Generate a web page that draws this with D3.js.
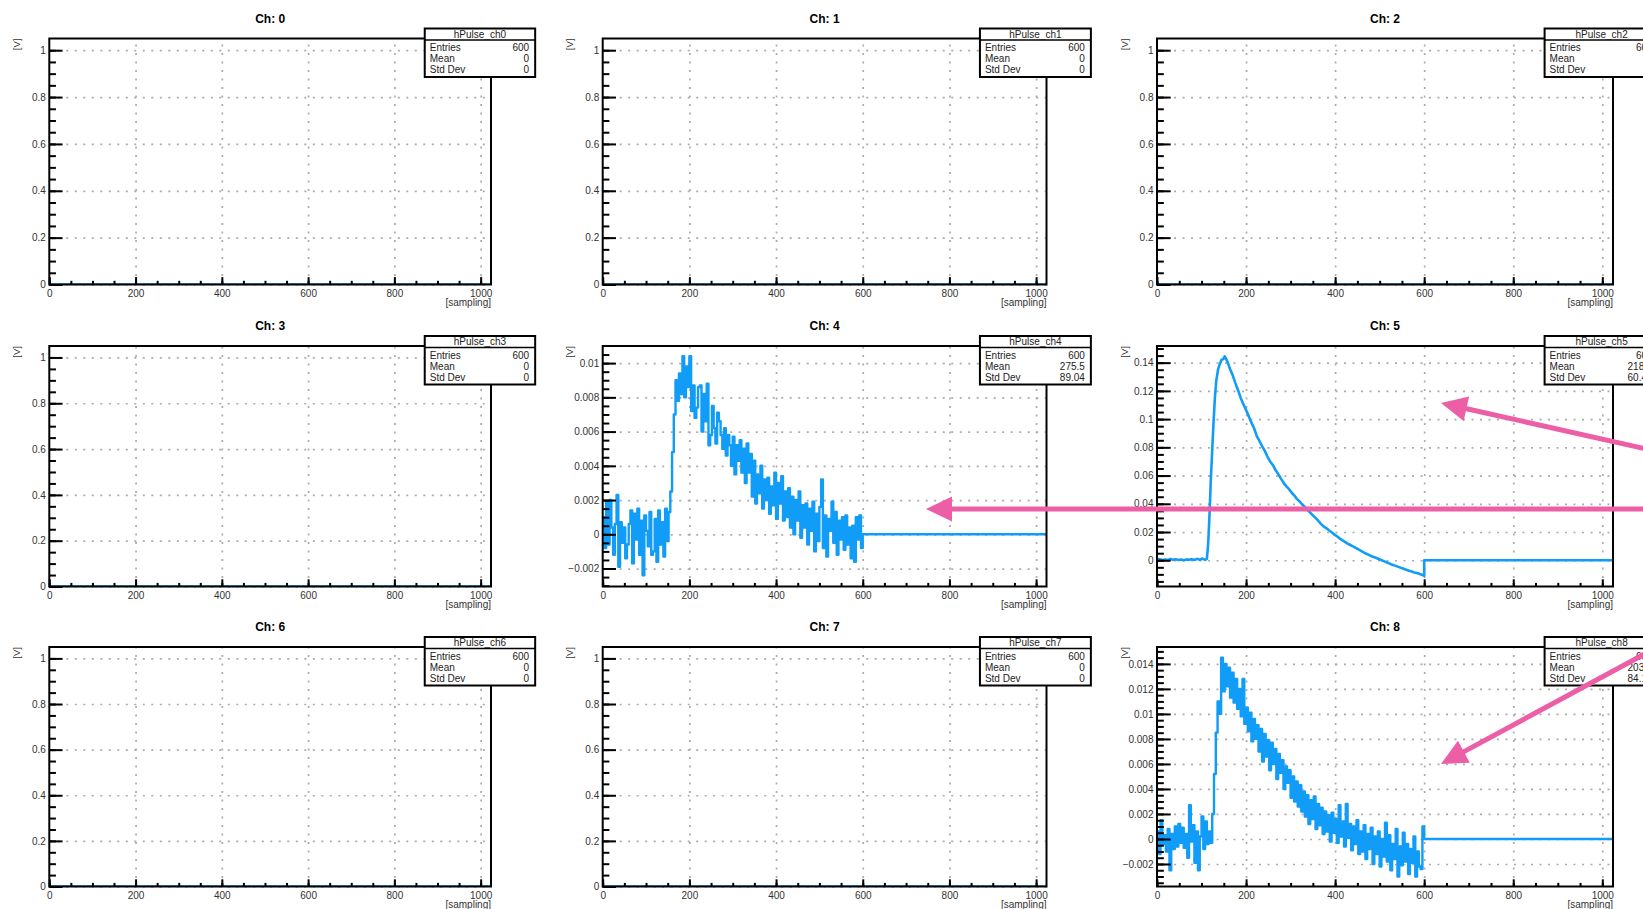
<!DOCTYPE html>
<html>
<head>
<meta charset="utf-8">
<script src="https://cdn.jsdelivr.net/npm/d3@7"></script>
<style>
  body { margin: 0; background: #ffffff; }
  svg { display: block; font-family: "Liberation Sans", Arial, Helvetica, sans-serif; }
</style>
</head>
<body>
<div id="canvas"></div>
<script>
// Define SVG area dimensions
var svgWidth = 1643;
var svgHeight = 909;

// Channel numbers, laid out 3 x 3
var channelIds = [0, 1, 2, 3, 4, 5, 6, 7, 8];

// Stats box contents
var statsEntries = ["600", "600", "600", "600", "600", "600", "600", "600", "600"];
var statsMean = ["0", "0", "0", "0", "275.5", "218.4", "0", "0", "203.2"];
var statsStdDev = ["0", "0", "0", "0", "89.04", "60.41", "0", "0", "84.17"];

// Axis ranges and tick steps
var xLimits = [0, 1024];
var xMajorStep = 200;
var xMinorStep = 50;
var yLimits = [
  [0, 1.05], [0, 1.05], [0, 1.05],
  [0, 1.05], [-0.00305, 0.0110], [-0.0186, 0.1518],
  [0, 1.05], [0, 1.05], [-0.0038, 0.01535]
];
var yMajorSteps = [0.2, 0.2, 0.2, 0.2, 0.002, 0.02, 0.2, 0.2, 0.002];

// Last filled bin; bins from here to the end are empty
var filledBins = 600;

// ch4 and ch8: one value every 4 samples (0, 4, ... 596)
var noisyStep = 4;
var ch4Values = [
  0.0010, -0.0008, 0.0019, -0.0006, 0.0020, 0.0004, -0.0012, 0.0006, 0.0023, -0.0019,
  0.0007, -0.0005, 0.0004, -0.0014, -0.0006, 0.0006, 0.0014, -0.0017, 0.0012, -0.0003,
  0.0015, -0.0012, 0.0008, -0.0024, 0.0011, 0.0002, -0.0007, 0.0013, -0.0012, -0.0010,
  0.0009, -0.0016, 0.0014, -0.0006, 0.0007, -0.0013, 0.0015, -0.0004, 0.0013, 0.0025,
  0.0048, 0.0070, 0.0090, 0.0078, 0.0094, 0.0082, 0.0104, 0.0080, 0.0098, 0.0086,
  0.0104, 0.0072, 0.0087, 0.0068, 0.0074, 0.0086, 0.0087, 0.0060, 0.0082, 0.0066,
  0.0088, 0.0052, 0.0058, 0.0075, 0.0062, 0.0053, 0.0071, 0.0066, 0.0058, 0.0050,
  0.0062, 0.0046, 0.0058, 0.0052, 0.0040, 0.0057, 0.0035, 0.0052, 0.0043, 0.0055,
  0.0036, 0.0050, 0.0030, 0.0053, 0.0036, 0.0047, 0.0022, 0.0043, 0.0018, 0.0035,
  0.0024, 0.0040, 0.0015, 0.0032, 0.0020, 0.0033, 0.0012, 0.0028, 0.0017, 0.0036,
  0.0009, 0.0030, 0.0018, 0.0034, 0.0008, 0.0025, 0.0010, 0.0027, 0.0004, 0.0022,
  0.0000, 0.0020, 0.0008, 0.0025, -0.0002, 0.0017, 0.0004, 0.0018, -0.0006, 0.0015,
  0.0002, 0.0019, -0.0010, 0.0012, -0.0004, 0.0016, 0.0032, -0.0008, 0.0011, -0.0013,
  0.0009, 0.0002, 0.0019, -0.0005, 0.0013, -0.0012, 0.0008, -0.0003, 0.0010, -0.0009,
  0.0011, -0.0006, 0.0004, -0.0014, 0.0005, -0.0016, 0.0010, -0.0003, 0.0011, -0.0008
];
var ch8Values = [
  0.0006, -0.0012, 0.0015, -0.0004, 0.0003, -0.0010, 0.0008, -0.0025, 0.0004, -0.0008,
  0.0010, -0.0006, 0.0012, -0.0003, 0.0009, -0.0007, 0.0004, -0.0015, 0.0027, -0.0002,
  0.0011, -0.0019, 0.0006, -0.0025, 0.0002, 0.0018, -0.0008, 0.0014, -0.0004, 0.0006,
  -0.0003, 0.0020, 0.0052, 0.0085, 0.0110, 0.0100, 0.0145, 0.0118, 0.0140, 0.0122,
  0.0137, 0.0113, 0.0133, 0.0109, 0.0128, 0.0104, 0.0120, 0.0098, 0.0128, 0.0092,
  0.0105, 0.0086, 0.0101, 0.0078, 0.0096, 0.0080, 0.0091, 0.0070, 0.0088, 0.0062,
  0.0084, 0.0066, 0.0079, 0.0055, 0.0077, 0.0060, 0.0072, 0.0048, 0.0068, 0.0053,
  0.0063, 0.0040, 0.0058, 0.0045, 0.0055, 0.0033, 0.0050, 0.0030, 0.0046, 0.0026,
  0.0043, 0.0022, 0.0038, 0.0018, 0.0035, 0.0012, 0.0031, 0.0016, 0.0034, 0.0008,
  0.0028, 0.0011, 0.0025, 0.0004, 0.0022, 0.0006, 0.0019, -0.0002, 0.0021, 0.0005,
  0.0016, -0.0003, 0.0027, 0.0002, 0.0014, -0.0006, 0.0028, 0.0001, 0.0012, -0.0009,
  0.0010, -0.0004, 0.0015, -0.0012, 0.0006, -0.0010, 0.0011, -0.0016, 0.0004, -0.0008,
  0.0009, -0.0020, 0.0002, -0.0012, 0.0006, -0.0022, 0.0000, -0.0014, 0.0013, -0.0018,
  0.0003, -0.0025, -0.0004, -0.0016, 0.0008, -0.0030, -0.0006, -0.0021, 0.0005, -0.0018,
  -0.0004, -0.0028, -0.0008, -0.0019, 0.0002, -0.0030, -0.0010, -0.0022, -0.0024, 0.0010
];

// ch5: smooth pulse, read at these samples
var ch5Samples = [
  0, 6, 12, 18, 24, 30, 36, 42, 48, 54, 60, 66, 72, 78, 84, 90, 96, 102, 108, 112,
  115, 118, 121, 124, 127, 130, 133, 137, 141, 145, 149, 152, 155, 159, 164, 170, 176, 182, 188, 194,
  200, 206, 212, 218, 224, 230, 236, 242, 248, 254, 260, 266, 272, 278, 284, 290, 296, 302, 308, 314,
  320, 326, 332, 338, 344, 350, 356, 362, 368, 374, 380, 386, 392, 398, 404, 410, 416, 422, 428, 434,
  440, 446, 452, 458, 464, 470, 476, 482, 488, 494, 500, 506, 512, 518, 524, 530, 536, 542, 548, 554,
  560, 566, 572, 578, 584, 590, 596, 599
];
var ch5Values = [
  0.0004, 0.0008, 0.0002, 0.0006, 0.0001, 0.0009, 0.0003, 0.0007, 0.0002, 0.0005,
  0.0000, 0.0006, 0.0003, 0.0008, 0.0002, 0.0010, 0.0004, 0.0012, 0.0003, 0.0010,
  0.012, 0.033, 0.058, 0.078, 0.098, 0.115, 0.127, 0.135, 0.139, 0.142,
  0.1425, 0.1445, 0.1428, 0.1400, 0.1355, 0.1310, 0.1255, 0.1205, 0.1150, 0.1105,
  0.1065, 0.1020, 0.0975, 0.0935, 0.0880, 0.0845, 0.0808, 0.0775, 0.0735, 0.0700,
  0.0675, 0.0640, 0.0612, 0.0580, 0.0550, 0.0525, 0.0505, 0.0480, 0.0460, 0.0435,
  0.0418, 0.0395, 0.0378, 0.0355, 0.0338, 0.0318, 0.0300, 0.0280, 0.0258, 0.0240,
  0.0228, 0.0212, 0.0198, 0.0182, 0.0170, 0.0155, 0.0143, 0.0130, 0.0118, 0.0108,
  0.0098, 0.0088, 0.0078, 0.0066, 0.0056, 0.0046, 0.0038, 0.0028, 0.0022, 0.0014,
  0.0006, -0.0002, -0.0010, -0.0018, -0.0026, -0.0033, -0.0040, -0.0047, -0.0054, -0.0060,
  -0.0068, -0.0074, -0.0080, -0.0086, -0.0091, -0.0098, -0.0104, -0.0110
];

// Pink annotation arrows drawn over the canvas (tip, tail) in page pixels
var arrowTips = [[926, 509], [1441, 403], [1441, 764]];
var arrowTails = [[1700, 509], [1700, 461], [1700, 624]];

// Frame edges of the pads (columns and rows)
var colFrames = [[49.3, 491], [602.7, 1046.5], [1157, 1613]];
var rowFrames = [[38.5, 284.5], [346, 586.5], [647, 886.5]];

var lineColor = "#109cf7";
var arrowColor = "#ec5ea6";

var svg = d3.select("#canvas")
  .append("svg")
  .attr("width", svgWidth)
  .attr("height", svgHeight);

// Tick label format like ROOT: 0.01, 0.008, -0.002
function fmt(v) {
  if (Math.abs(v) < 1e-12) return "0";
  return String(+v.toPrecision(6)).replace("-", "\u2212");
}

function stepTicks(lo, hi, step) {
  var out = [];
  for (var k = Math.ceil(lo / step - 1e-9); k * step <= hi + 1e-12; k++) {
    out.push(+(k * step).toPrecision(10));
  }
  return out;
}

// Build the points of each histogram line
function channelPoints(c) {
  var pts = [];
  if (c === 4 || c === 8) {
    var vals = c === 4 ? ch4Values : ch8Values;
    vals.forEach(function(v, i) { pts.push([i * noisyStep, v]); });
    pts.push([filledBins, 0]);
    pts.push([xLimits[1], 0]);
  } else if (c === 5) {
    ch5Samples.forEach(function(s, i) { pts.push([s, ch5Values[i]]); });
    pts.push([filledBins, ch5Values[ch5Values.length - 1]]);
    pts.push([filledBins, 0]);
    pts.push([xLimits[1], 0]);
  } else {
    pts.push([xLimits[0], 0]);
    pts.push([xLimits[1], 0]);
  }
  return pts;
}

channelIds.forEach(function(c) {
  var row = Math.floor(c / 3);
  var col = c % 3;
  var x0 = colFrames[col][0], x1 = colFrames[col][1];
  var y0 = rowFrames[row][0], y1 = rowFrames[row][1];
  var frameW = x1 - x0, frameH = y1 - y0;

  var xScale = d3.scaleLinear().domain(xLimits).range([x0, x1]);
  var yScale = d3.scaleLinear().domain(yLimits[c]).range([y1, y0]);

  var yStep = yMajorSteps[c];
  var yMajor = stepTicks(yLimits[c][0], yLimits[c][1], yStep);
  var yMinor = stepTicks(yLimits[c][0], yLimits[c][1], yStep / 4)
    .filter(function(v) { return v < yLimits[c][1] - 1e-9; });
  var xMajor = stepTicks(0, 1000, xMajorStep);
  var xMinor = stepTicks(0, 1000, xMinorStep);

  var pad = svg.append("g").attr("class", "pad" + c);

  // Dotted grid at major ticks
  var gridX = pad.append("g")
    .attr("transform", "translate(0," + y1 + ")")
    .call(d3.axisBottom(xScale).tickValues(xMajor.filter(function(v) { return v > 0; }))
      .tickSize(-frameH).tickFormat(""));
  var gridY = pad.append("g")
    .attr("transform", "translate(" + x0 + ",0)")
    .call(d3.axisLeft(yScale).tickValues(yMajor).tickSize(-frameW).tickFormat(""));
  [gridX, gridY].forEach(function(g) {
    g.select(".domain").remove();
    g.selectAll("line")
      .attr("stroke", "#ababab")
      .attr("stroke-width", 1.7)
      .attr("stroke-dasharray", "2,6.5");
  });

  // Histogram line
  pad.append("clipPath").attr("id", "clip" + c)
    .append("rect").attr("x", x0).attr("y", y0).attr("width", frameW).attr("height", frameH);

  var noisy = (c === 4 || c === 8);
  var line = d3.line()
    .x(function(d) { return xScale(d[0]); })
    .y(function(d) { return yScale(d[1]); })
    .curve(noisy ? d3.curveStepAfter : d3.curveLinear);

  pad.append("path")
    .datum(channelPoints(c))
    .attr("clip-path", "url(#clip" + c + ")")
    .attr("fill", "none")
    .attr("stroke", lineColor)
    .attr("stroke-width", noisy ? 2.4 : 2.6)
    .attr("stroke-linejoin", "round")
    .attr("d", line);

  // Frame
  pad.append("rect")
    .attr("x", x0).attr("y", y0)
    .attr("width", frameW).attr("height", frameH)
    .attr("fill", "none")
    .attr("stroke", "#000")
    .attr("stroke-width", 2);

  // Axes with ticks pointing into the frame
  var yAxisMajor = pad.append("g")
    .attr("transform", "translate(" + x0 + ",0)")
    .call(d3.axisLeft(yScale).tickValues(yMajor).tickSizeInner(-0.03 * frameW)
      .tickSizeOuter(0).tickPadding(3.5).tickFormat(fmt));
  var yAxisMinor = pad.append("g")
    .attr("transform", "translate(" + x0 + ",0)")
    .call(d3.axisLeft(yScale).tickValues(yMinor).tickSizeInner(-0.015 * frameW)
      .tickSizeOuter(0).tickFormat(""));
  var xAxisMajor = pad.append("g")
    .attr("transform", "translate(0," + y1 + ")")
    .call(d3.axisBottom(xScale).tickValues(xMajor).tickSizeInner(-0.03 * frameH)
      .tickSizeOuter(0).tickPadding(5).tickFormat(fmt));
  var xAxisMinor = pad.append("g")
    .attr("transform", "translate(0," + y1 + ")")
    .call(d3.axisBottom(xScale).tickValues(xMinor).tickSizeInner(-0.015 * frameH)
      .tickSizeOuter(0).tickFormat(""));
  [yAxisMajor, yAxisMinor, xAxisMajor, xAxisMinor].forEach(function(g) {
    g.select(".domain").remove();
    g.selectAll("line").attr("stroke", "#000").attr("stroke-width", 2);
    g.selectAll("text")
      .attr("fill", "#333")
      .style("font-size", "10px")
      .style("font-family", "'Liberation Sans', Arial, sans-serif");
  });

  // Axis titles
  pad.append("text")
    .attr("transform", "translate(" + (x0 - 33) + "," + y0 + ") rotate(-90)")
    .attr("text-anchor", "end")
    .attr("dominant-baseline", "central")
    .attr("fill", "#333")
    .style("font-size", "9.5px")
    .text("[V]");

  pad.append("text")
    .attr("x", x1)
    .attr("y", y1 + 21)
    .attr("text-anchor", "end")
    .attr("fill", "#333")
    .style("font-size", "10px")
    .text("[sampling]");

  // Pad title
  pad.append("text")
    .attr("x", (x0 + x1) / 2)
    .attr("y", y0 - 16)
    .attr("text-anchor", "middle")
    .attr("fill", "#000")
    .style("font-size", "12px")
    .style("font-weight", "bold")
    .text("Ch: " + c);

  // Stats box
  var padW = frameW / 0.8;
  var boxRight = x1 + 0.08 * padW;
  var boxLeft = boxRight - 0.2 * padW;
  var boxTop = y0 - 10;
  var headBottom = y0 + 1.5;
  var boxBottom = y0 + 38.5;

  var box = pad.append("g");
  box.append("rect")
    .attr("x", boxLeft).attr("y", boxTop)
    .attr("width", boxRight - boxLeft).attr("height", boxBottom - boxTop)
    .attr("fill", "#fff")
    .attr("stroke", "#000")
    .attr("stroke-width", 2);
  box.append("line")
    .attr("x1", boxLeft).attr("x2", boxRight)
    .attr("y1", headBottom).attr("y2", headBottom)
    .attr("stroke", "#000")
    .attr("stroke-width", 1.6);
  box.append("text")
    .attr("x", (boxLeft + boxRight) / 2)
    .attr("y", (boxTop + headBottom) / 2)
    .attr("text-anchor", "middle")
    .attr("dominant-baseline", "central")
    .attr("fill", "#222")
    .style("font-size", "10px")
    .text("hPulse_ch" + c);

  var statRows = [
    ["Entries", statsEntries[c]],
    ["Mean", statsMean[c]],
    ["Std Dev", statsStdDev[c]]
  ];
  statRows.forEach(function(r, i) {
    var yy = headBottom + 7.5 + i * 11.2;
    box.append("text")
      .attr("x", boxLeft + 5).attr("y", yy)
      .attr("dominant-baseline", "central")
      .attr("fill", "#222")
      .style("font-size", "10px")
      .text(r[0]);
    box.append("text")
      .attr("x", boxRight - 6).attr("y", yy)
      .attr("text-anchor", "end")
      .attr("dominant-baseline", "central")
      .attr("fill", "#222")
      .style("font-size", "10px")
      .text(r[1]);
  });
});

// Annotation arrows on top
var arrows = svg.append("g").attr("class", "arrows");
arrowTips.forEach(function(tip, i) {
  var tail = arrowTails[i];
  var dx = tail[0] - tip[0], dy = tail[1] - tip[1];
  var len = Math.sqrt(dx * dx + dy * dy);
  var ux = dx / len, uy = dy / len;
  var headLen = 26, headHalf = 12.5;
  var bx = tip[0] + ux * headLen, by = tip[1] + uy * headLen;

  arrows.append("line")
    .attr("x1", bx - ux * 2).attr("y1", by - uy * 2)
    .attr("x2", tail[0]).attr("y2", tail[1])
    .attr("stroke", arrowColor)
    .attr("stroke-width", 5);

  arrows.append("polygon")
    .attr("points", [
      [tip[0], tip[1]],
      [bx - uy * headHalf, by + ux * headHalf],
      [bx + uy * headHalf, by - ux * headHalf]
    ].map(function(p) { return p.join(","); }).join(" "))
    .attr("fill", arrowColor);
});
</script>
</body>
</html>
